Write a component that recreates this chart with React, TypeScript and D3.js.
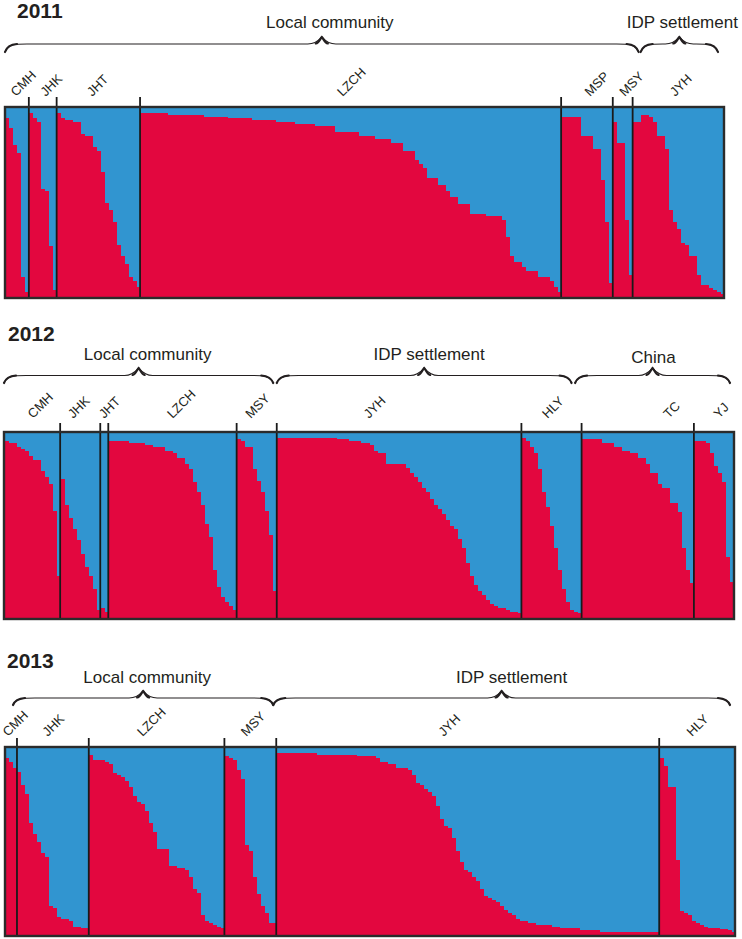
import * as d3 from "d3";

const RED = "#e3073f";
const BLUE = "#3195d0";
const INK = "#231f20";
const FONT = "Arial, 'Liberation Sans', sans-serif";

// share of the red cluster per individual, in plot order
const pops2011 = ["CMH", "JHK", "JHT", "LZCH", "MSP", "MSY", "JYH"];
const cmh2011 = [0.94, 0.89, 0.8, 0.76, 0.11, 0.03];
const jhk2011 = [0.97, 0.94, 0.92, 0.57, 0.56, 0.27, 0.04];
const jht2011 = [0.97, 0.94, 0.93, 0.93, 0.92, 0.92, 0.86, 0.85, 0.85, 0.79, 0.77, 0.66, 0.5, 0.46, 0.4, 0.28, 0.22, 0.18, 0.11, 0.09, 0.06];
const lzch2011 = [
  0.97, 0.97, 0.97, 0.97, 0.97, 0.97, 0.97, 0.96, 0.96, 0.96, 0.96, 0.96, 0.96, 0.96, 0.96,
  0.96, 0.95, 0.95, 0.95, 0.95, 0.95, 0.95, 0.94, 0.94, 0.94, 0.94, 0.94, 0.94, 0.93, 0.93, 0.93, 0.93,
  0.93, 0.93, 0.92, 0.92, 0.92, 0.92, 0.92, 0.91, 0.91, 0.91, 0.91, 0.91, 0.9, 0.9, 0.9, 0.9, 0.9,
  0.87, 0.87, 0.87, 0.87, 0.87, 0.87, 0.85, 0.85, 0.85, 0.85, 0.83, 0.83, 0.83, 0.83, 0.81, 0.81, 0.81,
  0.77, 0.77, 0.77, 0.72, 0.7, 0.68, 0.63, 0.63, 0.63, 0.59, 0.59, 0.56, 0.53, 0.53, 0.49, 0.49, 0.49,
  0.44, 0.44, 0.44, 0.44, 0.43, 0.43, 0.43, 0.43, 0.41, 0.32, 0.22, 0.19, 0.19, 0.16, 0.14, 0.14, 0.14,
  0.11, 0.11, 0.11, 0.09, 0.06, 0.03,
];
const msp2011 = [0.95, 0.95, 0.95, 0.95, 0.95, 0.85, 0.85, 0.85, 0.78, 0.78, 0.62, 0.4, 0.08];
const msy2011 = [0.92, 0.81, 0.81, 0.41, 0.12];
const jyh2011 = [0.92, 0.92, 0.96, 0.96, 0.95, 0.92, 0.85, 0.85, 0.78, 0.46, 0.4, 0.36, 0.29, 0.28, 0.22, 0.22, 0.12, 0.07, 0.07, 0.05, 0.04, 0.03, 0.02];

const pops2012 = ["CMH", "JHK", "JHT", "LZCH", "MSY", "JYH", "HLY", "TC", "YJ"];
const cmh2012 = [0.95, 0.94, 0.94, 0.92, 0.91, 0.9, 0.87, 0.85, 0.85, 0.79, 0.76, 0.72, 0.58, 0.23];
const jhk2012 = [0.75, 0.61, 0.54, 0.48, 0.42, 0.35, 0.28, 0.23, 0.16, 0.05];
const jht2012 = [0.06, 0.04];
const lzch2012 = [0.95, 0.95, 0.95, 0.95, 0.95, 0.94, 0.94, 0.94, 0.94, 0.93, 0.93, 0.92, 0.92, 0.92, 0.9, 0.9, 0.89, 0.86, 0.86, 0.83, 0.8, 0.73, 0.68, 0.61, 0.51, 0.44, 0.26, 0.17, 0.12, 0.09, 0.07, 0.05];
const msy2012 = [0.96, 0.95, 0.92, 0.92, 0.8, 0.74, 0.68, 0.58, 0.45, 0.15];
const jyh2012 = [
  0.97, 0.97, 0.97, 0.97, 0.97, 0.97, 0.97, 0.97, 0.97, 0.97, 0.97, 0.97, 0.97, 0.97, 0.97,
  0.96, 0.96, 0.96, 0.95, 0.95, 0.95, 0.94, 0.94, 0.93, 0.9, 0.89, 0.89, 0.83, 0.83, 0.83, 0.83, 0.83,
  0.81, 0.78, 0.76, 0.73, 0.7, 0.68, 0.64, 0.61, 0.59, 0.56, 0.53, 0.5, 0.48, 0.43, 0.38, 0.3, 0.23,
  0.18, 0.15, 0.13, 0.1, 0.08, 0.07, 0.06, 0.06, 0.05, 0.04, 0.04, 0.03,
];
const hly2012 = [0.97, 0.95, 0.92, 0.89, 0.8, 0.68, 0.6, 0.5, 0.38, 0.26, 0.16, 0.09, 0.05, 0.04, 0.03];
const tc2012 = [0.96, 0.96, 0.96, 0.96, 0.96, 0.94, 0.94, 0.94, 0.92, 0.92, 0.9, 0.9, 0.89, 0.89, 0.86, 0.86, 0.83, 0.78, 0.78, 0.72, 0.7, 0.7, 0.62, 0.62, 0.57, 0.38, 0.26, 0.19];
const yj2012 = [0.95, 0.95, 0.95, 0.94, 0.89, 0.82, 0.78, 0.73, 0.33, 0.2];

const pops2013 = ["CMH", "JHK", "LZCH", "MSY", "JYH", "HLY"];
const cmh2013 = [0.94, 0.92, 0.89];
const jhk2013 = [0.87, 0.8, 0.75, 0.6, 0.54, 0.5, 0.44, 0.42, 0.16, 0.15, 0.1, 0.09, 0.09, 0.08, 0.05, 0.05, 0.04, 0.04];
const lzch2013 = [0.96, 0.93, 0.93, 0.93, 0.92, 0.91, 0.86, 0.85, 0.84, 0.82, 0.79, 0.74, 0.71, 0.7, 0.66, 0.6, 0.55, 0.46, 0.46, 0.46, 0.37, 0.37, 0.36, 0.36, 0.35, 0.31, 0.25, 0.23, 0.11, 0.08, 0.07, 0.06, 0.05, 0.04];
const msy2013 = [0.95, 0.94, 0.93, 0.88, 0.83, 0.48, 0.45, 0.31, 0.22, 0.16, 0.12, 0.07, 0.07];
const jyh2013 = [
  0.97, 0.97, 0.97, 0.97, 0.97, 0.97, 0.97, 0.97, 0.97, 0.97, 0.96, 0.96, 0.96, 0.96, 0.96, 0.96, 0.96, 0.96, 0.96, 0.96,
  0.95, 0.95, 0.95, 0.95, 0.95, 0.94, 0.92, 0.92, 0.91, 0.91, 0.89, 0.89, 0.89, 0.88,
  0.85, 0.81, 0.8, 0.78, 0.76, 0.74, 0.69, 0.62, 0.58, 0.57, 0.52, 0.45, 0.39, 0.35, 0.34, 0.31, 0.29, 0.25, 0.21, 0.2,
  0.19, 0.18, 0.16, 0.14, 0.12, 0.11, 0.09, 0.08, 0.08, 0.07, 0.07, 0.06, 0.06, 0.06, 0.06,
  0.05, 0.05, 0.04, 0.04, 0.04, 0.04, 0.04, 0.03, 0.03, 0.03, 0.03, 0.03,
  0.02, 0.02, 0.02, 0.02, 0.02, 0.02, 0.02, 0.02, 0.02, 0.02, 0.02, 0.02, 0.02, 0.02, 0.02,
];
const hly2013 = [0.94, 0.9, 0.79, 0.79, 0.4, 0.13, 0.12, 0.11, 0.08, 0.07, 0.06, 0.05, 0.04, 0.04, 0.04, 0.035, 0.035, 0.03, 0.02];

type Brace = { text: string; from: number; to: number; padL: number; padR: number; textDx: number; textY: number };
type Panel = {
  year: string;
  pops: string[];
  values: number[][];
  box: { x: number; y: number; w: number; h: number };
  title: [number, number];
  labelY: number;
  labelDx: number[];
  divTop: number;
  brace: { tip: number; flat: number; end: number };
  braces: Brace[];
};

const panels: Panel[] = [
  {
    year: "2011",
    pops: pops2011,
    values: [cmh2011, jhk2011, jht2011, lzch2011, msp2011, msy2011, jyh2011],
    box: { x: 5, y: 107, w: 719, h: 191 },
    title: [17, 18],
    labelY: 97,
    labelDx: [-1, 3, -6, -8, 3, 2, -3],
    divTop: 97,
    brace: { tip: 37, flat: 44, end: 52 },
    braces: [
      { text: "Local community", from: 0, to: 5, padL: 0, padR: -6, textDx: 8, textY: 28 },
      { text: "IDP settlement", from: 6, to: 6, padL: 8, padR: 6, textDx: 3, textY: 28 },
    ],
  },
  {
    year: "2012",
    pops: pops2012,
    values: [cmh2012, jhk2012, jht2012, lzch2012, msy2012, jyh2012, hly2012, tc2012, yj2012],
    box: { x: 4, y: 432, w: 730, h: 187 },
    title: [8, 341],
    labelY: 419,
    labelDx: [1, -7, 0, 0, -6, -30, -4, 31, 5],
    divTop: 423,
    brace: { tip: 368, flat: 375.5, end: 383 },
    braces: [
      { text: "Local community", from: 0, to: 4, padL: 0, padR: 3.5, textDx: 9, textY: 360 },
      { text: "IDP settlement", from: 5, to: 6, padL: 0, padR: 10, textDx: 5, textY: 360 },
      { text: "China", from: 7, to: 8, padL: -6.5, padR: 4, textDx: 1, textY: 363 },
    ],
  },
  {
    year: "2013",
    pops: pops2013,
    values: [cmh2013, jhk2013, lzch2013, msy2013, jyh2013, hly2013],
    box: { x: 5, y: 747, w: 730, h: 189 },
    title: [7, 668],
    labelY: 737,
    labelDx: [-3, -5, -14, -4, -24, -5],
    divTop: 738,
    brace: { tip: 691, flat: 698, end: 705 },
    braces: [
      { text: "Local community", from: 0, to: 3, padL: 8, padR: 3, textDx: 4, textY: 683 },
      { text: "IDP settlement", from: 4, to: 5, padL: -3, padR: 5, textDx: 10, textY: 683 },
    ],
  },
];

function bracePath(x0: number, x1: number, yEnd: number, yFlat: number, yTip: number) {
  const xm = (x0 + x1) / 2;
  return [
    `M${x0},${yEnd}`,
    `C${x0 + 3},${yFlat} ${x0 + 10},${yFlat} ${x0 + 22},${yFlat}`,
    `L${xm - 14},${yFlat}`,
    `C${xm - 5},${yFlat} ${xm - 2},${yTip + 2} ${xm},${yTip}`,
    `C${xm + 2},${yTip + 2} ${xm + 5},${yFlat} ${xm + 14},${yFlat}`,
    `L${x1 - 22},${yFlat}`,
    `C${x1 - 10},${yFlat} ${x1 - 3},${yFlat} ${x1},${yEnd}`,
  ].join(" ");
}

function braceAccents(x0: number, x1: number, yEnd: number, yFlat: number, yTip: number) {
  const xm = (x0 + x1) / 2;
  return [
    `M${x0},${yEnd} C${x0 + 2},${yFlat + 2} ${x0 + 6},${yFlat + 0.5} ${x0 + 12},${yFlat}`,
    `M${xm - 6},${yFlat - 0.5} C${xm - 3},${yFlat - 1} ${xm - 1.5},${yTip + 1.5} ${xm},${yTip} C${xm + 1.5},${yTip + 1.5} ${xm + 3},${yFlat - 1} ${xm + 6},${yFlat - 0.5}`,
    `M${x1 - 12},${yFlat} C${x1 - 6},${yFlat + 0.5} ${x1 - 2},${yFlat + 2} ${x1},${yEnd}`,
  ];
}

function PanelView({ p }: { p: Panel }) {
  const counts = p.values.map((v) => v.length);
  const starts = counts.map((_, i) => d3.sum(counts.slice(0, i)));
  const total = d3.sum(counts);
  const flat = p.values.flat();

  const x = d3
    .scaleBand<number>()
    .domain(d3.range(total))
    .range([p.box.x, p.box.x + p.box.w])
    .paddingInner(0)
    .paddingOuter(0);
  const y = d3.scaleLinear().domain([0, 1]).range([p.box.y + p.box.h, p.box.y]);
  const bw = x.bandwidth();
  const edge = (i: number) => (i >= total ? p.box.x + p.box.w : (x(i) as number));

  return (
    <g>
      <text x={p.title[0]} y={p.title[1]} fontFamily={FONT} fontWeight="bold" fontSize={21} fill={INK}>
        {p.year}
      </text>

      {p.braces.map((b) => {
        const x0 = edge(starts[b.from]) + b.padL;
        const x1 = edge(starts[b.to] + counts[b.to]) - b.padR;
        const xm = (x0 + x1) / 2;
        return (
          <g key={b.text}>
            <text x={xm + b.textDx} y={b.textY} textAnchor="middle" fontFamily={FONT} fontSize={17} fill={INK}>
              {b.text}
            </text>
            <path d={bracePath(x0, x1, p.brace.end, p.brace.flat, p.brace.tip)} fill="none" stroke={INK} strokeWidth={1.1} />
            {braceAccents(x0, x1, p.brace.end, p.brace.flat, p.brace.tip).map((d, k) => (
              <path key={k} d={d} fill="none" stroke={INK} strokeWidth={2.2} strokeLinecap="round" />
            ))}
          </g>
        );
      })}

      {p.pops.map((name, g) => {
        const cx = (edge(starts[g]) + edge(starts[g] + counts[g])) / 2 + p.labelDx[g];
        return (
          <text
            key={name}
            x={cx}
            y={p.labelY}
            transform={`rotate(-45 ${cx} ${p.labelY})`}
            fontFamily={FONT}
            fontSize={13}
            fill={INK}
          >
            {name}
          </text>
        );
      })}

      <rect x={p.box.x} y={p.box.y} width={p.box.w} height={p.box.h} fill={BLUE} />
      {flat.map((v, i) => (
        <rect
          key={i}
          x={x(i)}
          y={y(v)}
          width={bw + 0.5}
          height={y(0) - y(v)}
          fill={RED}
          shapeRendering="crispEdges"
        />
      ))}

      {starts.slice(1).map((s) => (
        <line key={s} x1={edge(s)} x2={edge(s)} y1={p.divTop} y2={p.box.y + p.box.h} stroke="#1a1a1a" strokeWidth={1.8} />
      ))}
      <rect x={p.box.x} y={p.box.y} width={p.box.w} height={p.box.h} fill="none" stroke="#2b2b2b" strokeWidth={2.4} />
    </g>
  );
}

export default function App() {
  return (
    <svg width={742} height={939} style={{ position: "absolute", left: 0, top: 0, background: "#fff" }}>
      {panels.map((p) => (
        <PanelView key={p.year} p={p} />
      ))}
    </svg>
  );
}
